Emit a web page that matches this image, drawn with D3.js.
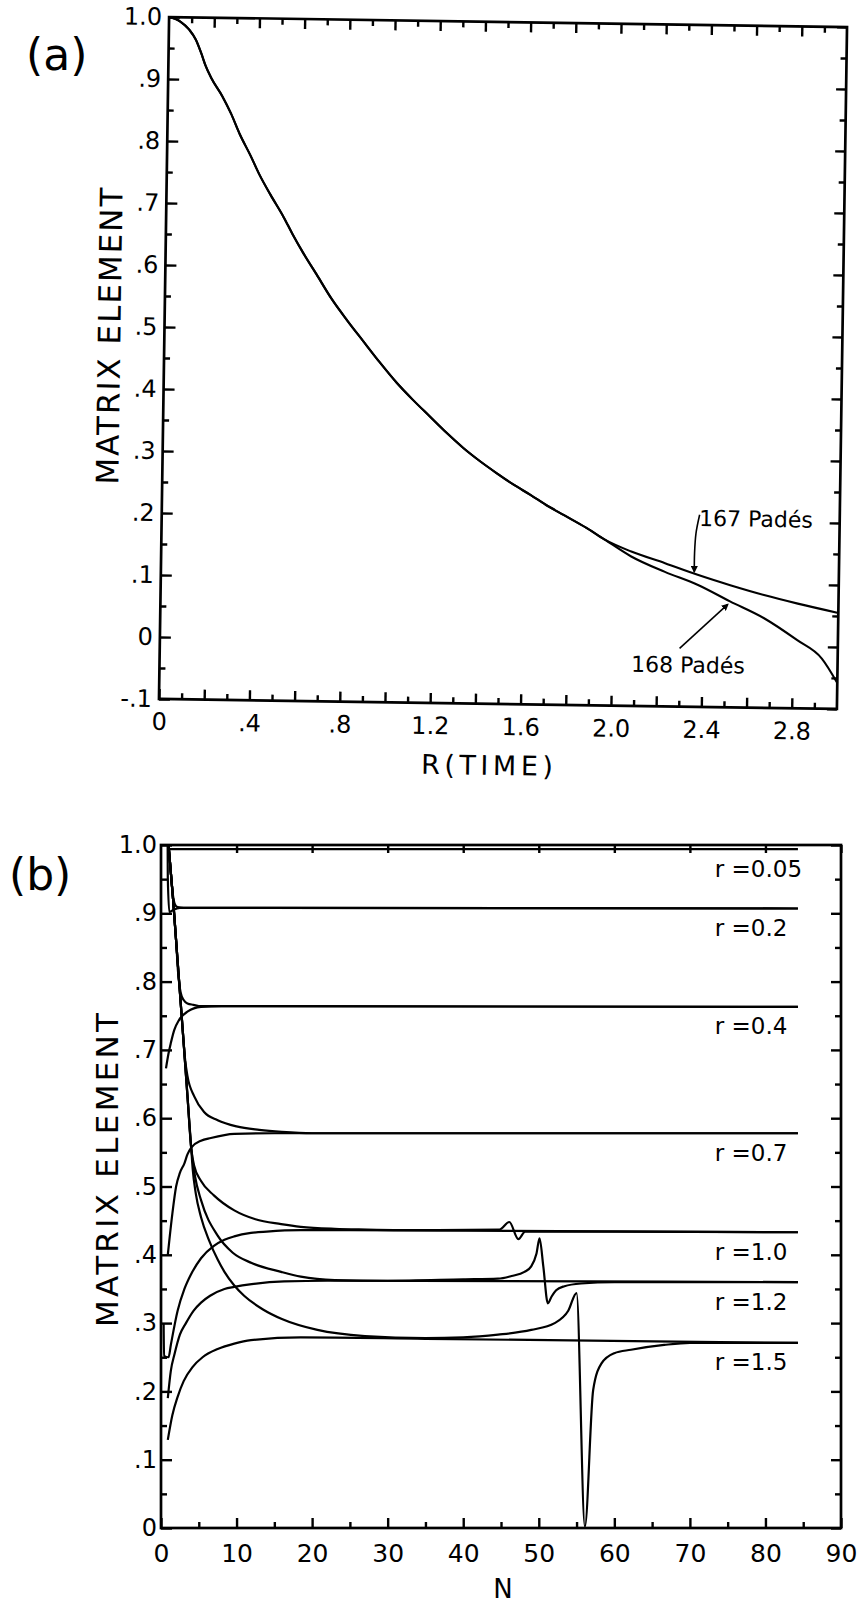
<!DOCTYPE html>
<html>
<head>
<meta charset="utf-8">
<script src="https://cdn.jsdelivr.net/npm/d3@7"></script>
<style>
  body { margin: 0; background: #fff; }
  svg { display: block; background: #fff; }
  text { font-family: "DejaVu Sans", sans-serif; fill: #000; }
</style>
</head>
<body>
<svg id="fig" width="862" height="1606"></svg>
<script>
// ---------------- data: panel (a), matrix element vs R(time) ----------------
// common part of both Padé sequences
const rCommon = [0, 0.05, 0.09, 0.12, 0.145, 0.165, 0.19, 0.24, 0.28, 0.32, 0.37, 0.41, 0.46, 0.52, 0.56,
  0.61, 0.67, 0.74, 0.81, 0.88, 0.955, 1.03, 1.105, 1.18, 1.255, 1.33, 1.405, 1.48, 1.555, 1.63, 1.70, 1.78, 1.88, 1.96]
const vCommon = [1.0, 0.993, 0.980, 0.964, 0.942, 0.922, 0.903, 0.874, 0.846, 0.813, 0.778, 0.748, 0.716, 0.680, 0.653,
  0.622, 0.588, 0.548, 0.514, 0.482, 0.448, 0.416, 0.388, 0.362, 0.336, 0.312, 0.291, 0.272, 0.254, 0.238, 0.222, 0.206, 0.186, 0.168]
// where they split
const r167 = [2.08, 2.23, 2.375, 2.52, 2.67, 2.82, 3.0]
const v167 = [0.149, 0.131, 0.113, 0.097, 0.082, 0.069, 0.055]
const r168 = [2.08, 2.23, 2.375, 2.52, 2.67, 2.82, 2.93, 3.0]
const v168 = [0.141, 0.117, 0.097, 0.071, 0.045, 0.010, -0.019, -0.058]

const yTicksA = d3.range(-1, 11).map(i => i / 10)
const xTicksA = d3.range(0, 15).map(i => i / 5)      // every .2, labelled every .4

// ---------------- data: panel (b), matrix element vs N ----------------
const n005 = [1, 84.3], v005 = [0.994, 0.994]

const n02Up = [1.0, 1.3, 1.6, 1.85, 2.2, 3.0, 5, 84.3]
const v02Up = [1.0, 0.96, 0.925, 0.913, 0.909, 0.908, 0.908, 0.907]
const n02Lo = [0.88, 0.9, 1.1, 1.6, 2.5, 84.3]
const v02Lo = [1.0, 0.952, 0.902, 0.905, 0.908, 0.907]

const n04Up = [1.0, 1.6, 2.0, 2.25, 2.6, 3.0, 3.5, 4.3, 5.3, 8, 84.3]
const v04Up = [1.0, 0.92, 0.86, 0.815, 0.784, 0.773, 0.768, 0.766, 0.764, 0.764, 0.763]
const n04Lo = [0.66, 1.0, 1.3, 1.75, 2.4, 3.5, 5.3, 8, 84.3]
const v04Lo = [0.673, 0.695, 0.71, 0.729, 0.744, 0.756, 0.763, 0.764, 0.763]

const n07Up = [1.0, 1.6, 2.0, 2.5, 2.9, 3.2, 3.5, 4.4, 5.7, 7.5, 10, 13, 16, 20, 84.3]
const v07Up = [1.0, 0.92, 0.86, 0.785, 0.725, 0.685, 0.662, 0.632, 0.609, 0.597, 0.588, 0.583, 0.580, 0.578, 0.578]
const n07Lo = [0.9, 1.5, 2.0, 2.5, 3.1, 3.5, 4.0, 5.3, 6.6, 9.7, 15, 84.3]
const v07Lo = [0.40, 0.46, 0.50, 0.52, 0.534, 0.547, 0.557, 0.567, 0.571, 0.577, 0.578, 0.578]

const n10Up = [1.0, 1.6, 2.0, 2.5, 3.0, 3.5, 4.0, 4.4, 5.3, 7.0, 9.7, 12.5, 15.9, 18.5, 23, 27.3, 35, 44.8, 46.1, 47.3, 48.2, 60, 84.3]
const v10Up = [1.0, 0.92, 0.86, 0.785, 0.71, 0.633, 0.556, 0.53, 0.508, 0.487, 0.465, 0.452, 0.445, 0.441, 0.438, 0.437, 0.436, 0.437, 0.448, 0.423, 0.434, 0.434, 0.433]
const n10Lo = [0.35, 0.4, 1.0, 1.3, 2.2, 3.1, 4.0, 5.3, 7.0, 8.4, 9.7, 11.9, 14, 18.5, 25, 84.3]
const v10Lo = [0.30, 0.252, 0.25, 0.268, 0.318, 0.35, 0.372, 0.395, 0.413, 0.422, 0.427, 0.432, 0.434, 0.436, 0.436, 0.433]

const n12Up = [1.0, 1.6, 2.0, 2.5, 3.0, 3.5, 4.0, 4.5, 5.3, 7.5, 9.5, 12, 15.9, 18.5, 23, 30, 40, 44.6, 46.4, 48.1,
  49.0, 49.7, 50.1, 50.6, 51.2, 51.7, 52.3, 53.4, 55.6, 60, 84.3]
const v12Up = [1.0, 0.92, 0.86, 0.785, 0.71, 0.633, 0.556, 0.515, 0.48, 0.428, 0.403, 0.388, 0.375, 0.368, 0.363, 0.362, 0.364, 0.365, 0.369, 0.375,
  0.383, 0.402, 0.424, 0.383, 0.329, 0.339, 0.348, 0.354, 0.358, 0.36, 0.36]
const n12Lo = [0.9, 1.3, 1.8, 2.5, 3.3, 4.3, 5.3, 6.5, 8.4, 9.7, 12, 16.3, 22, 84.3]
const v12Lo = [0.19, 0.23, 0.255, 0.283, 0.30, 0.318, 0.33, 0.34, 0.35, 0.353, 0.357, 0.361, 0.362, 0.36]

const n15Up = [1.0, 1.6, 2.0, 2.5, 3.0, 3.5, 4.0, 4.2, 4.6, 5.3, 6.4, 7.5, 8.4, 9.7, 11, 13.5, 16, 20.7, 27, 35, 40, 44.6,
  49, 52.1, 53.9, 55, 56.1, 57.2, 58.3, 60, 62.2, 66.6, 70, 84.3]
const v15Up = [1.0, 0.92, 0.86, 0.785, 0.71, 0.633, 0.556, 0.525, 0.49, 0.455, 0.42, 0.393, 0.375, 0.355, 0.34, 0.32, 0.306, 0.29, 0.281, 0.278, 0.279, 0.283,
  0.29, 0.30, 0.318, 0.344, 0.002, 0.202, 0.241, 0.256, 0.261, 0.268, 0.271, 0.271]
const n15Lo = [0.9, 1.5, 2.2, 3.0, 4.2, 5.5, 7.5, 9.7, 11.9, 18.5, 35, 84.3]
const v15Lo = [0.129, 0.165, 0.192, 0.215, 0.236, 0.25, 0.262, 0.27, 0.275, 0.279, 0.277, 0.271]

const rLabels = ["r =0.05", "r =0.2", "r =0.4", "r =0.7", "r =1.0", "r =1.2", "r =1.5"]
const rLimits = [0.994, 0.908, 0.764, 0.578, 0.434, 0.36, 0.272]

const yTicksB = d3.range(0, 11).map(i => i / 10)
const xTicksB = d3.range(0, 100, 10)

// ---------------- drawing ----------------
const svg = d3.select("#fig")

svg.append("defs").append("marker")
    .attr("id", "tip")
    .attr("viewBox", "0 0 10 10")
    .attr("refX", 8).attr("refY", 5)
    .attr("markerWidth", 4.5).attr("markerHeight", 4.5)
    .attr("orient", "auto")
    .append("path").attr("d", "M0,0 L10,5 L0,10 z").attr("fill", "#000")

// ".9", "-.1", "0", "1.0" style labels
function shortFmt(d) {
    if (Math.abs(d) < 1e-9) return "0"
    return d3.format(".1f")(d).replace("\u2212", "-").replace(/^(-?)0\./, "$1.")
}

// frame with inward ticks on all four sides
function frame(g, x, y, opt) {
    const [x0, x1] = x.range()
    const [y0, y1] = y.range()   // y0 bottom, y1 top

    g.append("rect")
        .attr("x", x0).attr("y", y1)
        .attr("width", x1 - x0).attr("height", y0 - y1)
        .attr("fill", "none").attr("stroke", "#000").attr("stroke-width", 2.7)

    const style = (sel, size) => {
        sel.select(".domain").remove()
        sel.selectAll(".tick line").attr("stroke", "#000").attr("stroke-width", 2.4)
        sel.selectAll("text").attr("font-size", size).attr("font-family", "DejaVu Sans, sans-serif").attr("fill", "#000")
    }

    // bottom
    g.append("g").attr("transform", `translate(0,${y0})`)
        .call(d3.axisBottom(x).tickValues(opt.xMajor).tickSize(-10).tickPadding(opt.xPad).tickFormat(opt.xFmt))
        .call(s => style(s, opt.xFont))
    g.append("g").attr("transform", `translate(0,${y0})`)
        .call(d3.axisBottom(x).tickValues(opt.xMinor).tickSize(-6).tickFormat(""))
        .call(s => style(s, 0))
    // top
    g.append("g").attr("transform", `translate(0,${y1})`)
        .call(d3.axisTop(x).tickValues(opt.xTopMajor).tickSize(-opt.topLen).tickFormat(""))
        .call(s => style(s, 0))
    if (opt.xTopMinor.length) {
        g.append("g").attr("transform", `translate(0,${y1})`)
            .call(d3.axisTop(x).tickValues(opt.xTopMinor).tickSize(-6).tickFormat(""))
            .call(s => style(s, 0))
    }
    // left
    g.append("g").attr("transform", `translate(${x0},0)`)
        .call(d3.axisLeft(y).tickValues(opt.yMajor).tickSize(-11).tickPadding(opt.yPad).tickFormat(shortFmt))
        .call(s => style(s, opt.yFont))
    g.append("g").attr("transform", `translate(${x0},0)`)
        .call(d3.axisLeft(y).tickValues(opt.yMinor).tickSize(-6).tickFormat(""))
        .call(s => style(s, 0))
    // right
    g.append("g").attr("transform", `translate(${x1},0)`)
        .call(d3.axisRight(y).tickValues(opt.yMajor).tickSize(-10).tickFormat(""))
        .call(s => style(s, 0))
    g.append("g").attr("transform", `translate(${x1},0)`)
        .call(d3.axisRight(y).tickValues(opt.yMinor).tickSize(-6).tickFormat(""))
        .call(s => style(s, 0))
}

// ---------- panel (a) ----------
const xa = d3.scaleLinear().domain([0, 3.0]).range([164, 842])
const ya = d3.scaleLinear().domain([-0.1, 1.0]).range([704, 22])

// the whole plot sits slightly turned on the page
const ga = svg.append("g").attr("transform", "rotate(0.85 503 363)")

frame(ga, xa, ya, {
    xMajor: xTicksA,
    xMinor: d3.range(0, 15).map(i => (2 * i + 1) / 10),
    xTopMajor: xTicksA.slice(1),
    xTopMinor: d3.range(0, 15).map(i => (2 * i + 1) / 10),
    topLen: 10,
    xFmt: d => (Math.round(d * 10) % 4 === 0 ? shortFmt(d) : ""),
    xPad: 14, xFont: 24,
    yMajor: yTicksA,
    yMinor: d3.range(-1, 10).map(i => i / 10 + 0.05),
    yPad: 7, yFont: 24
})

const lineA = d3.line().x(d => xa(d[0])).y(d => ya(d[1])).curve(d3.curveMonotoneX)

const pade167 = d3.zip(rCommon.concat(r167), vCommon.concat(v167))
const pade168 = d3.zip(rCommon.concat(r168), vCommon.concat(v168))

ga.selectAll("path.pade")
    .data([pade167, pade168])
    .join("path")
    .attr("class", "pade")
    .attr("d", lineA)
    .attr("fill", "none")
    .attr("stroke", "#000")
    .attr("stroke-width", 2.1)

// labels with leader arrows
const padeNotes = [
    { text: "167 Padés", at: [2.378, 0.192], leader: [[2.38, 0.21], [2.365, 0.18], [2.36, 0.148], [2.36, 0.118]] },
    { text: "168 Padés", at: [2.087, -0.045], leader: [[2.30, -0.006], [2.51, 0.066]] }
]
const leader = d3.line().x(d => xa(d[0])).y(d => ya(d[1])).curve(d3.curveCatmullRom)

padeNotes.forEach(n => {
    ga.append("text")
        .attr("x", xa(n.at[0])).attr("y", ya(n.at[1]))
        .attr("font-size", 22)
        .text(n.text)
    ga.append("path")
        .attr("d", leader(n.leader))
        .attr("fill", "none").attr("stroke", "#000").attr("stroke-width", 1.6)
        .attr("marker-end", "url(#tip)")
})

ga.append("text")
    .attr("x", 493).attr("y", 775)
    .attr("text-anchor", "middle")
    .attr("font-size", 27)
    .attr("textLength", 132).attr("lengthAdjust", "spacing")
    .text("R(TIME)")

ga.append("text")
    .attr("transform", "translate(120,342) rotate(-90)")
    .attr("text-anchor", "middle")
    .attr("font-size", 31)
    .attr("textLength", 297).attr("lengthAdjust", "spacing")
    .text("MATRIX ELEMENT")

svg.append("text")
    .attr("x", 26).attr("y", 70)
    .attr("font-family", "Liberation Serif, DejaVu Serif, serif")
    .attr("font-size", 44)
    .text("(a)")

// ---------- panel (b) ----------
const xb = d3.scaleLinear().domain([0, 90]).range([161, 841])
const yb = d3.scaleLinear().domain([0, 1]).range([1528, 845])

const gb = svg.append("g")

frame(gb, xb, yb, {
    xMajor: xTicksB,
    xMinor: d3.range(5, 90, 10),
    xTopMajor: xTicksB.slice(1),
    xTopMinor: [],
    topLen: 8,
    xFmt: d3.format("d"),
    xPad: 16, xFont: 25,
    yMajor: yTicksB,
    yMinor: d3.range(0, 10).map(i => i / 10 + 0.05),
    yPad: 4, yFont: 24
})

const lineB = d3.line().x(d => xb(d[0])).y(d => yb(d[1])).curve(d3.curveMonotoneX)

const seriesB = [
    [n005, v005],
    [n02Up, v02Up], [n02Lo, v02Lo],
    [n04Up, v04Up], [n04Lo, v04Lo],
    [n07Up, v07Up], [n07Lo, v07Lo],
    [n10Up, v10Up], [n10Lo, v10Lo],
    [n12Up, v12Up], [n12Lo, v12Lo],
    [n15Up, v15Up], [n15Lo, v15Lo]
].map(([n, v]) => d3.zip(n, v))

gb.selectAll("path.seq")
    .data(seriesB)
    .join("path")
    .attr("class", "seq")
    .attr("d", lineB)
    .attr("fill", "none")
    .attr("stroke", "#000")
    .attr("stroke-width", 2.2)

gb.selectAll("text.rlab")
    .data(rLabels)
    .join("text")
    .attr("class", "rlab")
    .attr("x", xb(73.3))
    .attr("y", (d, i) => yb(rLimits[i]) + 28)
    .attr("font-size", 23)
    .text(d => d)

gb.append("text")
    .attr("x", 503).attr("y", 1598)
    .attr("text-anchor", "middle")
    .attr("font-size", 26)
    .text("N")

gb.append("text")
    .attr("transform", "translate(118,1170) rotate(-90)")
    .attr("text-anchor", "middle")
    .attr("font-size", 31)
    .attr("textLength", 314).attr("lengthAdjust", "spacing")
    .text("MATRIX ELEMENT")

svg.append("text")
    .attr("x", 9).attr("y", 890)
    .attr("font-family", "Liberation Serif, DejaVu Serif, serif")
    .attr("font-size", 44)
    .text("(b)")
</script>
</body>
</html>
